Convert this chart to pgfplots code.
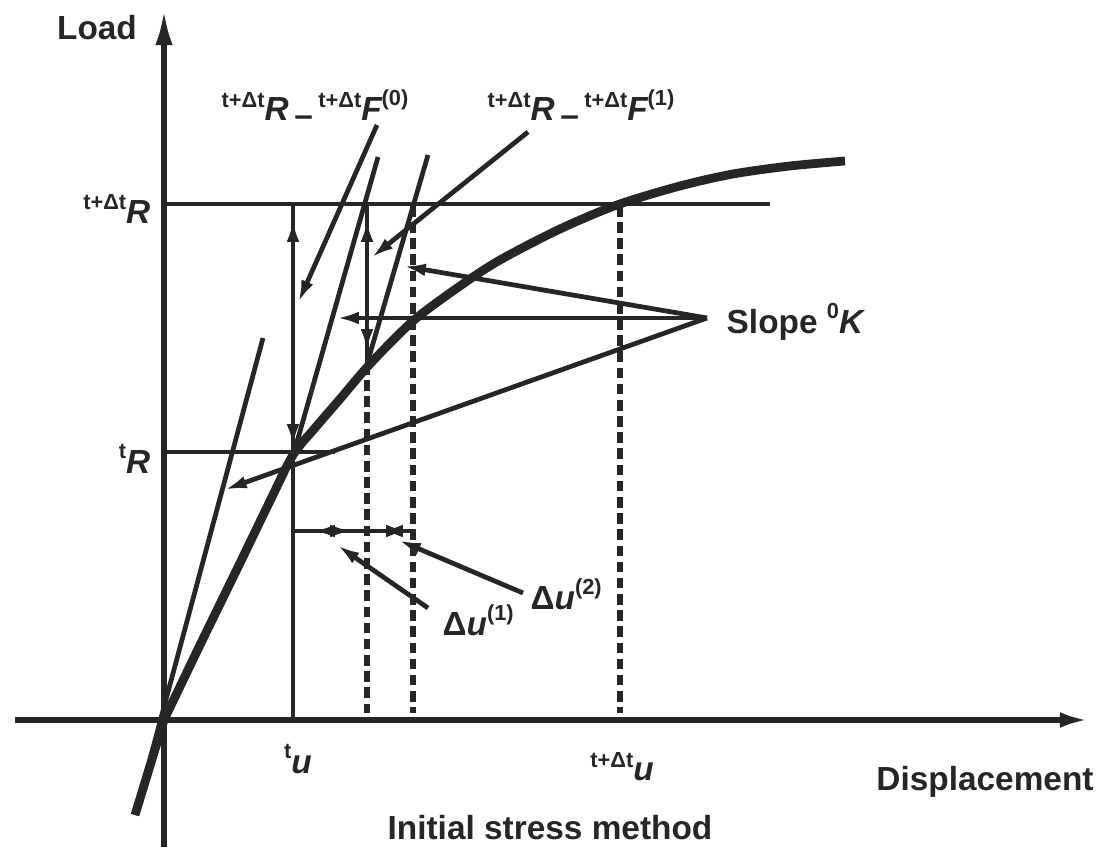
\documentclass[border=0pt]{standalone}
\usepackage{fontspec}
\setmainfont{Liberation Sans}
\usepackage{pgfplots}
\pgfplotsset{compat=1.18}
\usetikzlibrary{arrows.meta}
\definecolor{ink}{HTML}{262626}
% small superscript "t+Δt"
\newcommand{\tdt}{\raisebox{0.75ex}{\fontsize{6.2}{7}\selectfont\bfseries t+Δt}}
\newcommand{\supx}[1]{\raisebox{0.85ex}{\fontsize{6.2}{7}\selectfont\bfseries #1}}
\newcommand{\iv}[1]{{\fontsize{9.5}{10}\selectfont\itshape #1}}
\tikzset{lbl/.style={font=\fontsize{9.5}{10}\selectfont\bfseries, text=ink, inner sep=0pt}}

\begin{document}
\begin{tikzpicture}
\begin{axis}[
    width=10.97cm, height=8.55cm, scale only axis,
    xmin=0, xmax=1097, ymin=0, ymax=855,
    y dir=reverse,
    hide axis, clip=false,
    cycle list={{ink, solid, mark=none}},
    ln/.style={ink, mark=none, line width=1.35pt},
    dsh/.style={ln, line width=1.5pt, dash pattern=on 3pt off 1.6pt},
    arr/.style={ln, -{Latex[length=6.5pt,width=3.6pt]}},
]
% frame for bounding box
\addplot[draw=none] coordinates {(0,0) (1097,855)};

% axes
\addplot[ln, line width=1.5pt, -{Latex[length=10pt,width=5pt]}] coordinates {(164,847) (164,10)};
\addplot[ln, line width=1.5pt, -{Latex[length=8pt,width=4.5pt]}] coordinates {(15,720) (1088,720)};

% load-displacement curve
\addplot[ln, line width=2.5pt, smooth, tension=0.5] coordinates {
    (164,720) (200,645) (240,563) (270,501) (293,455) (315,428) (340,399)
    (370,364) (413,321) (460,286) (500,260) (560,229) (617,205) (680,186)
    (733,174) (790,166) (845,161)
};
\addplot[ln, line width=2.5pt] coordinates {(135,815) (164,720)};

% load levels
\addplot[ln] coordinates {(164,204) (770,204)};
\addplot[ln] coordinates {(164,452) (335,452)};

% slope 0K lines
\addplot[ln] coordinates {(135,815) (263,338)};
\addplot[ln] coordinates {(293,456) (378,157)};
\addplot[ln] coordinates {(367,364) (428,155)};

% verticals
\addplot[ln] coordinates {(293,204) (293,720)};
\addplot[ln] coordinates {(367,204) (367,364)};
\addplot[dsh] coordinates {(367,364) (367,713)};
\addplot[dsh] coordinates {(413,206) (413,713)};
\addplot[dsh] coordinates {(620,206) (620,713)};

% arrowheads on verticals
\addplot[arr] coordinates {(293,255) (293,219)};
\addplot[arr] coordinates {(293,405) (293,447)};
\addplot[arr] coordinates {(367,255) (367,219)};
\addplot[arr] coordinates {(367,315) (367,352)};

% displacement increments
\addplot[ln] coordinates {(293,531) (413,531)};
\addplot[arr] coordinates {(332,531) (312,531)};
\addplot[arr] coordinates {(332,531) (353,531)};
\addplot[arr] coordinates {(398,531) (380,531)};
\addplot[arr] coordinates {(392,531) (409,531)};

% leaders from "Slope 0K"
\addplot[arr] coordinates {(707,318) (224,490)};
\addplot[arr] coordinates {(707,318) (336,318)};
\addplot[arr] coordinates {(707,318) (403,266)};

% leaders from top labels
\addplot[arr] coordinates {(377,125) (298,303)};
\addplot[arr] coordinates {(528,132) (371,258)};

% leaders from increment labels
\addplot[arr] coordinates {(428,608) (337,545)};
\addplot[arr] coordinates {(523,593) (398,540)};

% labels
\node[lbl] at (axis cs:97,28) {Load};
\node[lbl, anchor=east] at (axis cs:151,209) {\tdt\iv{R}};
\node[lbl, anchor=east] at (axis cs:151,459) {\supx{t}\iv{R}};
\node[lbl, anchor=north] at (axis cs:298,744) {\supx{t}\iv{u}};
\node[lbl, anchor=north] at (axis cs:622,752) {\tdt\iv{u}};
\node[lbl] at (axis cs:985,782) {Displacement};
\node[lbl] at (axis cs:550,828) {Initial stress method};
\node[lbl, anchor=west] at (axis cs:726,322) {Slope \supx{0}\iv{K}};
\node[lbl, anchor=west] at (axis cs:221,108) {\tdt\iv{R}\,\raisebox{-0.3ex}{–}\,\tdt\iv{F}\supx{(0)}};
\node[lbl, anchor=west] at (axis cs:487,108) {\tdt\iv{R}\,\raisebox{-0.3ex}{–}\,\tdt\iv{F}\supx{(1)}};
\node[lbl, anchor=west] at (axis cs:442,620) {Δ\iv{u}\supx{(1)}};
\node[lbl, anchor=west] at (axis cs:530,594) {Δ\iv{u}\supx{(2)}};
\end{axis}
\end{tikzpicture}
\end{document}
